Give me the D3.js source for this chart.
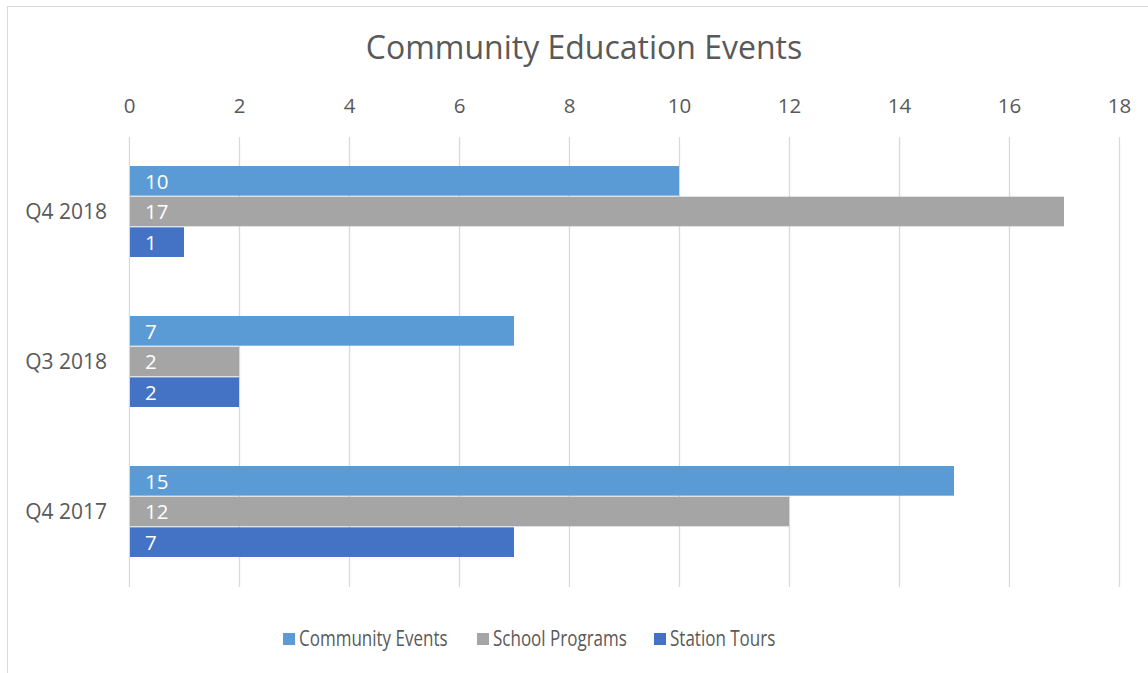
<!DOCTYPE html>
<html><head><meta charset="utf-8">
<script src="https://cdn.jsdelivr.net/npm/d3@7"></script>
<style>body{margin:0;background:#fff;}svg{display:block;font-family:"Open Sans",sans-serif;}</style>
</head><body>
<svg id="c" width="1148" height="673"></svg>
<script>
const categories = ["Q4 2018", "Q3 2018", "Q4 2017"];
const seriesNames = ["Community Events", "School Programs", "Station Tours"];
const communityEvents = [10, 7, 15];
const schoolPrograms = [17, 2, 12];
const stationTours = [1, 2, 7];
const tickValues = [0, 2, 4, 6, 8, 10, 12, 14, 16, 18];
const colors = ["#5B9BD5", "#A5A5A5", "#4472C4"];
const seriesValues = [communityEvents, schoolPrograms, stationTours];

(function(){
const FONT = "'Open Sans',sans-serif";
const svg = d3.select("#c");
svg.append("rect").attr("x", 7.5).attr("y", 6.5).attr("width", 1160).attr("height", 700)
  .attr("fill", "#fff").attr("stroke", "#D9D9D9").attr("stroke-width", 1);

const pL = 129, pR = 1119, pT = 137, pB = 587;
const x = d3.scaleLinear().domain([0, 18]).range([pL, pR]);
const y0 = d3.scaleBand().domain(categories).range([pT, pB]).paddingInner(0.387).paddingOuter(0.1935);
const y1 = d3.scaleBand().domain(seriesNames).range([0, y0.bandwidth()]).padding(0);

svg.append("text").attr("x", 584).attr("y", 59).attr("text-anchor", "middle")
  .attr("fill", "#595959").attr("font-size", 32).text("Community Education Events");

svg.append("g").selectAll("line").data(tickValues).join("line")
  .attr("x1", d => Math.round(x(d)) + 0.5).attr("x2", d => Math.round(x(d)) + 0.5)
  .attr("y1", pT).attr("y2", pB).attr("stroke", "#D9D9D9").attr("stroke-width", 1.3);

const ax = svg.append("g").attr("transform", `translate(0,${pT})`)
  .call(d3.axisTop(x).tickValues(tickValues).tickSize(0).tickPadding(24));
ax.select(".domain").remove();
ax.selectAll("text").attr("fill", "#595959").attr("font-size", 20.5).attr("font-family", FONT);

const ay = svg.append("g").attr("transform", `translate(${pL},0)`)
  .call(d3.axisLeft(y0).tickSize(0).tickPadding(22));
ay.select(".domain").remove();
ay.selectAll("text").attr("fill", "#595959").attr("font-size", 21).attr("font-family", FONT);

const groups = svg.append("g").selectAll("g").data(categories).join("g")
  .attr("transform", c => `translate(0,${y0(c)})`);
groups.each(function(c, ci) {
  const g = d3.select(this);
  seriesNames.forEach((s, si) => {
    const v = seriesValues[si][ci];
    g.append("rect").attr("x", x(0) + 1).attr("y", y1(s)).attr("width", x(v) - x(0) - 1)
      .attr("height", y1.bandwidth() - 1).attr("fill", colors[si]);
    g.append("text").attr("x", x(0) + 16).attr("y", y1(s) + y1.bandwidth() / 2)
      .attr("dy", "0.35em").attr("fill", "#fff").attr("font-size", 20.5).text(v);
  });
});

const legendX = [283, 477, 654];
const lg = svg.append("g");
seriesNames.forEach((s, i) => {
  lg.append("rect").attr("x", legendX[i]).attr("y", 633).attr("width", 12).attr("height", 12).attr("fill", colors[i]);
  lg.append("g").attr("transform", `translate(${legendX[i] + 16},646) scale(0.81,1)`)
    .append("text").attr("x", 0).attr("y", 0)
    .attr("fill", "#595959").attr("font-size", 21).text(s);
});
})();
</script>
</body></html>
